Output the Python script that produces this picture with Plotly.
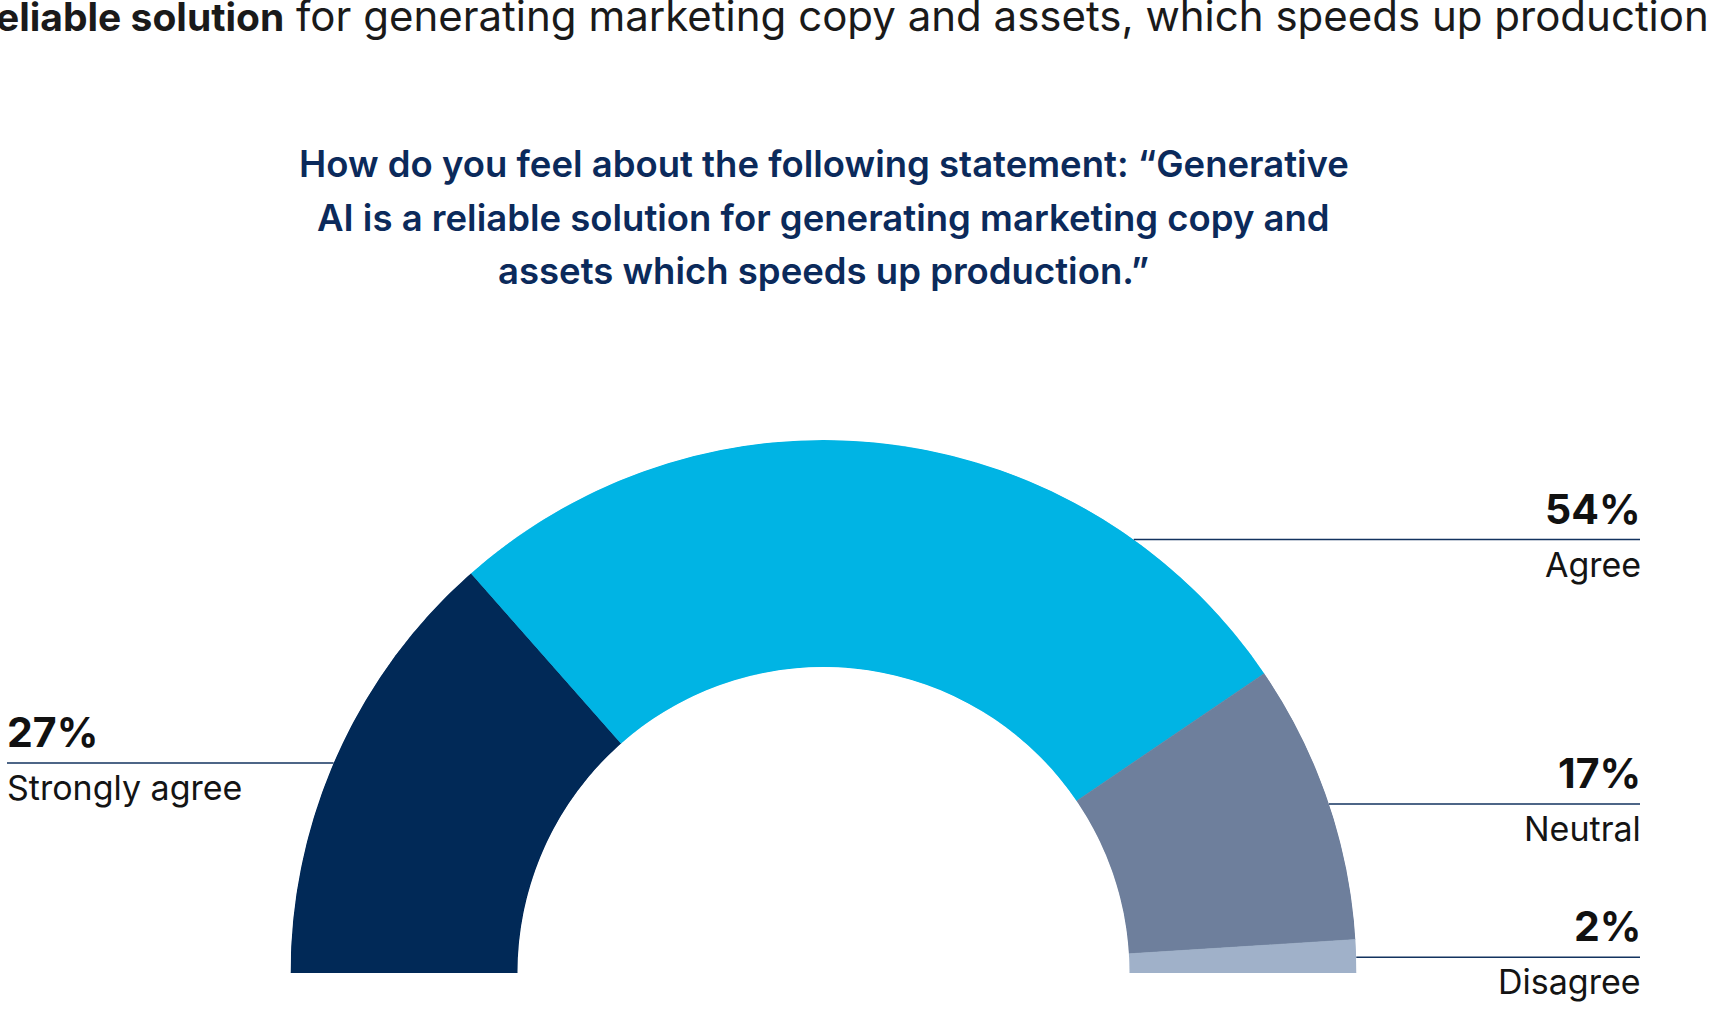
import numpy as np
import plotly.graph_objects as go

# ---------------- data ----------------
categories = ["Strongly agree", "Agree", "Neutral", "Disagree"]
values = [27, 54, 17, 2]
pct_labels = ["27%", "54%", "17%", "2%"]
label_side = ["left", "right", "right", "right"]
colors = ["#012957", "#00b4e4", "#6e7f9c", "#a0b1c9"]

title_lines = [
    "How do you feel about the following statement: \u201cGenerative",
    "AI is a reliable solution for generating marketing copy and",
    "assets which speeds up production.\u201d",
]
top_bold = "reliable solution"
top_rest = " for generating marketing copy and assets, which speeds up production."

# ---------------- geometry / style ----------------
W, H = 1709, 1012
CX, CY = 823.5, 973.0      # centre of the half donut (px, from top-left)
R_OUT, R_IN = 533.0, 306.0
NAVY = "#0b2a5b"
LINE_COL = "#13335f"
TEXT_COL = "#141414"
FONT = "Inter"
# leader-line anchor angle on the outer rim (degrees from the left end, clockwise over the top)
leader_angle = [23.2, 125.6, 161.5, 178.3]

total = sum(values)
span = [v / total * 180.0 for v in values]
starts = np.concatenate([[0.0], np.cumsum(span)[:-1]])
mids = starts + np.array(span) / 2.0

fig = go.Figure()
fig.add_trace(go.Barpolar(
    r=[1] * len(values),
    theta=mids,
    width=span,
    marker=dict(color=colors, line=dict(color=colors, width=0.6)),
    hoverinfo="skip",
    showlegend=False,
))

px2x = lambda px: px / W
px2y = lambda py: 1 - py / H

shapes = []
annotations = []

def text_at(x_px, baseline_px, text, size, weight, color, xanchor):
    annotations.append(dict(
        x=px2x(x_px), y=px2y(baseline_px - 0.36 * size), xref="paper", yref="paper",
        text=text, showarrow=False, xanchor=xanchor, yanchor="middle",
        font=dict(family=FONT, size=size, color=color, weight=weight),
    ))

for cat, pct, side, ang in zip(categories, pct_labels, label_side, leader_angle):
    phi = np.deg2rad(180.0 - ang)
    ax = CX + R_OUT * np.cos(phi)
    ay = CY - R_OUT * np.sin(phi)
    if side == "right":
        x0, x1, tx, xa = ax, 1640.0, 1643.0, "right"
    else:
        x0, x1, tx, xa = 7.0, ax, 5.0, "left"
    shapes.append(dict(type="line", xref="paper", yref="paper",
                       x0=px2x(x0), x1=px2x(x1), y0=px2y(ay), y1=px2y(ay),
                       line=dict(color=LINE_COL, width=1.5)))
    text_at(tx, ay - 16, pct, 41, 700, "#111111", xa)
    text_at(tx, ay + 37, cat, 34, 400, TEXT_COL, xa)

for i, line in enumerate(title_lines):
    text_at(CX, 177.3 + 53.4 * i, line, 36.5, 600, NAVY, "center")

annotations.append(dict(
    x=0, y=px2y(29.5 - 0.36 * 39), xref="paper", yref="paper", xshift=-21,
    text="<b>" + top_bold + "</b><span style='font-size:42px'>" + top_rest + "</span>",
    showarrow=False, xanchor="left", yanchor="middle",
    font=dict(family=FONT, size=39, color="#1a1a1a"),
))

fig.update_layout(
    width=W, height=H,
    margin=dict(l=0, r=0, t=0, b=0),
    paper_bgcolor="white",
    plot_bgcolor="white",
    polar=dict(
        domain=dict(x=[(CX - R_OUT) / W, (CX + R_OUT) / W],
                    y=[1 - CY / H, 1 - (CY - R_OUT) / H]),
        sector=[0, 180],
        hole=R_IN / R_OUT,
        bargap=0,
        bgcolor="white",
        radialaxis=dict(range=[0, 1], visible=False, showgrid=False),
        angularaxis=dict(rotation=180, direction="clockwise", visible=False,
                         showgrid=False, thetaunit="degrees"),
    ),
    shapes=shapes,
    annotations=annotations,
)

fig.write_html("out.html")
